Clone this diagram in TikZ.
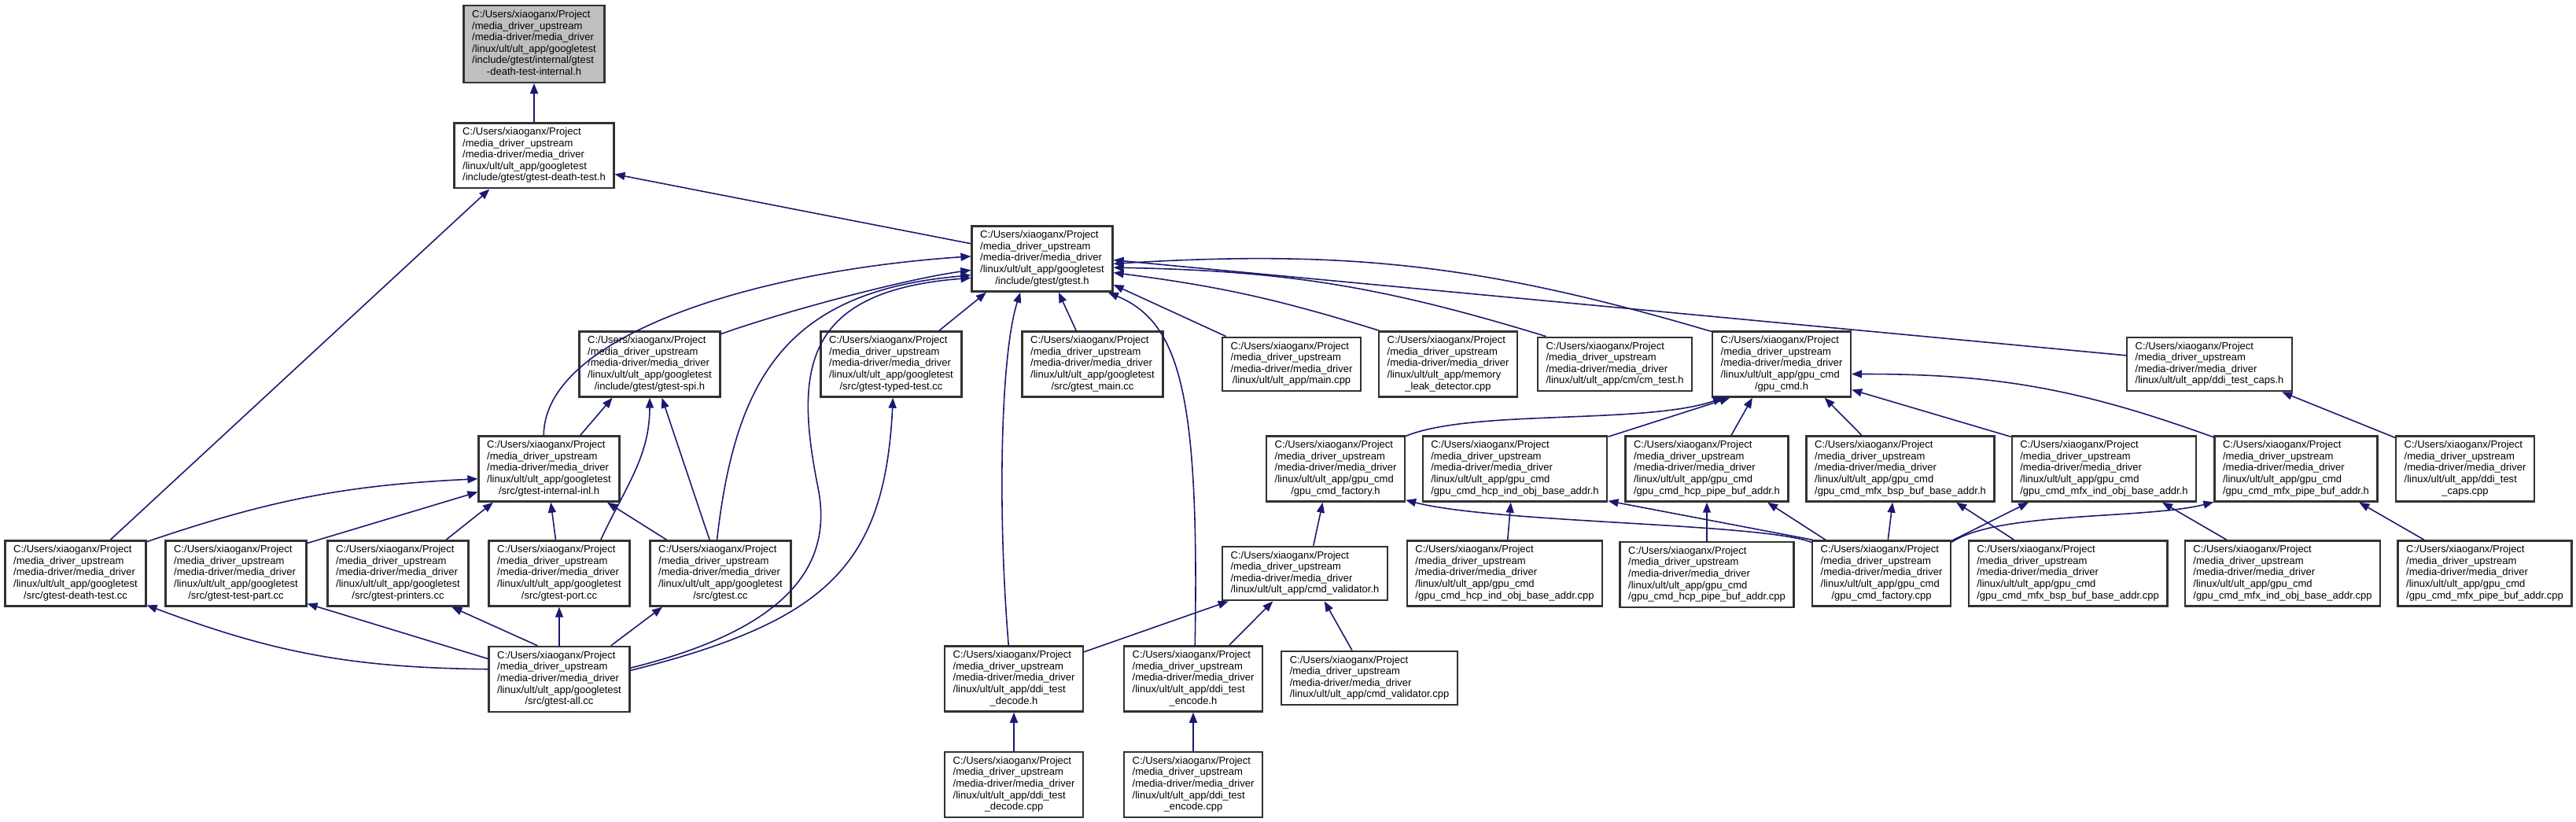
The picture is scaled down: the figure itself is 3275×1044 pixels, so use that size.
\documentclass[tikz,border=0pt]{standalone}
\usepackage{fontspec}
\setmainfont{Liberation Sans}
\usepackage{tikz}
\usetikzlibrary{arrows.meta,positioning}
\definecolor{dxblue}{RGB}{25,25,112}
\definecolor{dxframe}{RGB}{50,50,50}
\definecolor{dxgrey}{RGB}{191,191,191}
\newcommand{\fpath}[2]{\begin{tabular}{@{}l@{}}C:/Users/xiaoganx/Project\\/media\_driver\_upstream\\/media-driver/media\_driver#1\\\multicolumn{1}{@{}c@{}}{#2}\end{tabular}}
\newcommand{\gtestdir}{\\/linux/ult/ult\_app/googletest}
\newcommand{\gpudir}{\\/linux/ult/ult\_app/gpu\_cmd}
\newcommand{\ddidir}{\\/linux/ult/ult\_app/ddi\_test}

\begin{document}
\begin{tikzpicture}[x=0.01cm,y=-0.01cm,
  node distance=0.49cm,
  file/.style={draw=dxframe,line width=0.7pt,fill=white,inner xsep=1.05mm,inner ysep=0.5mm,
     font={\fontsize{3.7pt}{4.15pt}\selectfont}},
  mainfile/.style={file,fill=dxgrey},
  inc/.style={-{Triangle[length=1.3mm,width=1mm]},line width=0.45pt,color=dxblue}
]
\useasboundingbox (0,0) rectangle (3275,1044);
\fill[white] (0,0) rectangle (3275,1044);
\node[mainfile] (top) at (679,56) {\fpath{\gtestdir\\/include/gtest/internal/gtest}{-death-test-internal.h}};
\node[file,below=of top] (dth) {\fpath{\gtestdir}{/include/gtest/gtest-death-test.h}};
\node[file] (gth) at (1325,329) {\fpath{\gtestdir}{/include/gtest/gtest.h}};
\node[file] (spi) at (826,463) {\fpath{\gtestdir}{/include/gtest/gtest-spi.h}};
\node[file] (typed) at (1133,463) {\fpath{\gtestdir}{/src/gtest-typed-test.cc}};
\node[file] (gmain) at (1389,463) {\fpath{\gtestdir}{/src/gtest\_main.cc}};
\node[file] (maincpp) at (1642,463) {\fpath{}{/linux/ult/ult\_app/main.cpp}};
\node[file] (leak) at (1841,463) {\fpath{\\/linux/ult/ult\_app/memory}{\_leak\_detector.cpp}};
\node[file] (cmtest) at (2053,463) {\fpath{}{/linux/ult/ult\_app/cm/cm\_test.h}};
\node[file] (gpucmd) at (2265,463) {\fpath{\gpudir}{/gpu\_cmd.h}};
\node[file] (capsh) at (2809,463) {\fpath{}{/linux/ult/ult\_app/ddi\_test\_caps.h}};
\node[file] (inl) at (698,596) {\fpath{\gtestdir}{/src/gtest-internal-inl.h}};
\node[file] (facth) at (1698,596) {\fpath{\gpudir}{/gpu\_cmd\_factory.h}};
\node[file] (hcpindh) at (1926,596) {\fpath{\gpudir}{/gpu\_cmd\_hcp\_ind\_obj\_base\_addr.h}};
\node[file] (hcppipeh) at (2170,596) {\fpath{\gpudir}{/gpu\_cmd\_hcp\_pipe\_buf\_addr.h}};
\node[file] (bsph) at (2416,596) {\fpath{\gpudir}{/gpu\_cmd\_mfx\_bsp\_buf\_base\_addr.h}};
\node[file] (mfxindh) at (2675,596) {\fpath{\gpudir}{/gpu\_cmd\_mfx\_ind\_obj\_base\_addr.h}};
\node[file] (mfxpipeh) at (2919,596) {\fpath{\gpudir}{/gpu\_cmd\_mfx\_pipe\_buf\_addr.h}};
\node[file] (capscpp) at (3134,596) {\fpath{\ddidir}{\_caps.cpp}};
\node[file] (dtcc) at (96,729) {\fpath{\gtestdir}{/src/gtest-death-test.cc}};
\node[file] (tpcc) at (300,729) {\fpath{\gtestdir}{/src/gtest-test-part.cc}};
\node[file] (prcc) at (506,729) {\fpath{\gtestdir}{/src/gtest-printers.cc}};
\node[file] (portcc) at (711,729) {\fpath{\gtestdir}{/src/gtest-port.cc}};
\node[file] (gtcc) at (916,729) {\fpath{\gtestdir}{/src/gtest.cc}};
\node[file] (cvh) at (1659,729) {\fpath{}{/linux/ult/ult\_app/cmd\_validator.h}};
\node[file] (hcpindcpp) at (1913,729) {\fpath{\gpudir}{/gpu\_cmd\_hcp\_ind\_obj\_base\_addr.cpp}};
\node[file,below=of hcppipeh] (hcppipecpp) {\fpath{\gpudir}{/gpu\_cmd\_hcp\_pipe\_buf\_addr.cpp}};
\node[file] (factcpp) at (2392,729) {\fpath{\gpudir}{/gpu\_cmd\_factory.cpp}};
\node[file] (bspcpp) at (2629,729) {\fpath{\gpudir}{/gpu\_cmd\_mfx\_bsp\_buf\_base\_addr.cpp}};
\node[file] (mfxindcpp) at (2902,729) {\fpath{\gpudir}{/gpu\_cmd\_mfx\_ind\_obj\_base\_addr.cpp}};
\node[file] (mfxpipecpp) at (3159,729) {\fpath{\gpudir}{/gpu\_cmd\_mfx\_pipe\_buf\_addr.cpp}};
\node[file,below=of portcc] (allcc) {\fpath{\gtestdir}{/src/gtest-all.cc}};
\node[file] (dech) at (1289,863) {\fpath{\ddidir}{\_decode.h}};
\node[file] (ench) at (1517,863) {\fpath{\ddidir}{\_encode.h}};
\node[file] (cvcpp) at (1741,862) {\fpath{}{/linux/ult/ult\_app/cmd\_validator.cpp}};
\node[file,below=of dech] (deccpp) {\fpath{\ddidir}{\_decode.cpp}};
\node[file,below=of ench] (enccpp) {\fpath{\ddidir}{\_encode.cpp}};

\draw[inc] (dth) -- (top);
\draw[inc] (gth.168) -- (dth.-13);
\draw[inc] (dtcc.44) -- (dth.-143);
\draw[inc] (spi.23) .. controls (1000,395) and (1150,355) .. (gth.189);
\draw[inc] (inl.99) .. controls (692,430) and (950,345) .. (gth.178);
\draw[inc] (gtcc.96) .. controls (935,480) and (1000,370) .. (gth.193);
\draw[inc] (allcc.9) .. controls (1000,800) and (1060,720) .. (1040,620) .. controls (1010,470) and (1020,370) .. (gth.195);
\draw[inc] (allcc.7) .. controls (1050,790) and (1125,720) .. (typed.-87);
\draw[inc] (typed.35) -- (gth.-149);
\draw[inc] (gmain.116) -- (gth.-64);
\draw[inc] (dech.99) .. controls (1268,650) and (1272,450) .. (gth.-123);
\draw[inc] (ench.87) .. controls (1525,500) and (1500,410) .. (gth.-27);
\draw[inc] (maincpp.157) -- (gth.-20);
\draw[inc] (leak.154) to[bend right=5] (gth.-11);
\draw[inc] (cmtest.158) to[bend right=8] (gth.-7);
\draw[inc] (gpucmd.155) to[bend right=10] (gth.-4);
\draw[inc] (capsh.174) -- (gth.-1);

\draw[inc] (inl.47) -- (spi.-138);
\draw[inc] (portcc.39) to[out=65,in=-90] (spi.-90);
\draw[inc] (gtcc.108) -- (spi.-70);
\draw[inc] (dtcc.24) to[bend left=8] (inl.188);
\draw[inc] (tpcc.23) -- (inl.198);
\draw[inc] (prcc.35) -- (inl.-149);
\draw[inc] (portcc.96) -- (inl.-87);
\draw[inc] (gtcc.148) -- (inl.-30);
\draw[inc] (allcc.172) to[bend left=10] (dtcc.-24);
\draw[inc] (allcc.164) -- (tpcc.-23);
\draw[inc] (allcc.123) -- (prcc.-32);
\draw[inc] (allcc) -- (portcc);
\draw[inc] (allcc.33) -- (gtcc.-150);

\draw[inc] (deccpp) -- (dech);
\draw[inc] (enccpp) -- (ench);
\draw[inc] (dech.21) -- (cvh.-160);
\draw[inc] (ench.43) -- (cvh.-139);
\draw[inc] (cvcpp.122) -- (cvh.-55);
\draw[inc] (cvh.73) -- (facth.-111);

\draw[inc] (facth.25) .. controls (1870,520) and (2090,540) .. (gpucmd.-150);
\draw[inc] (hcpindh.19) -- (gpucmd.-147);
\draw[inc] (hcppipeh.54) -- (gpucmd.-131);
\draw[inc] (bsph.139) -- (gpucmd.-38);
\draw[inc] (mfxindh.161) -- (gpucmd.-20);
\draw[inc] (mfxpipeh.159) to[bend right=10] (gpucmd.-8);
\draw[inc] (capscpp.156) -- (capsh.-21);

\draw[inc] (factcpp.156) .. controls (2240,665) and (1900,665) .. (facth.-24);
\draw[inc] (factcpp.154) -- (hcpindh.-19);
\draw[inc] (factcpp.149) -- (hcppipeh.-29);
\draw[inc] (factcpp.79) -- (bsph.-103);
\draw[inc] (factcpp.25) -- (mfxindh.-156);
\draw[inc] (factcpp.24) .. controls (2540,650) and (2730,660) .. (mfxpipeh.-158);
\draw[inc] (hcpindcpp.85) -- (hcpindh.-97);
\draw[inc] (hcppipecpp) -- (hcppipeh);
\draw[inc] (bspcpp.148) -- (bsph.-31);
\draw[inc] (mfxindcpp.149) -- (mfxindh.-30);
\draw[inc] (mfxpipecpp.151) -- (mfxpipeh.-28);
\end{tikzpicture}
\end{document}
